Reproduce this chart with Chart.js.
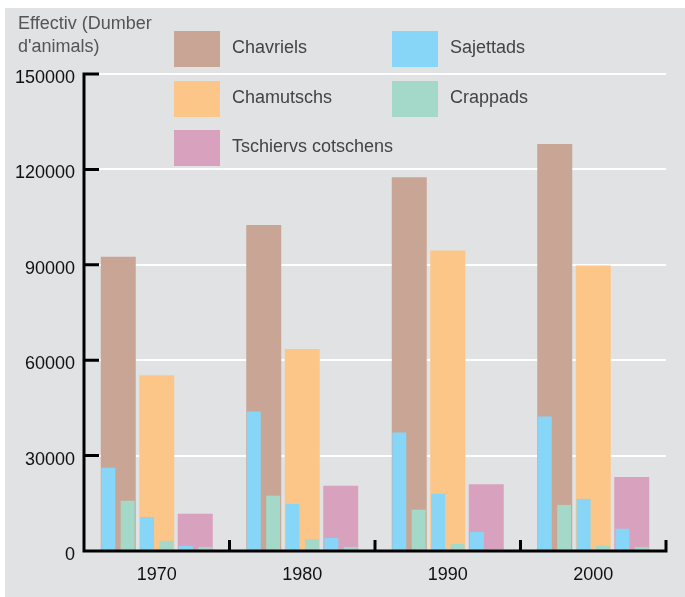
<!DOCTYPE html>
<html>
<head>
<meta charset="utf-8">
<script src="https://cdn.jsdelivr.net/npm/chart.js@4.4.1/dist/chart.umd.min.js"></script>
<style>
  html, body { margin: 0; padding: 0; background: #fff; }
  #panel { position: absolute; left: 5px; top: 8px; width: 680px; height: 589px; background: #e1e2e4; }
  #wrap { position: absolute; left: 0; top: 0; width: 685px; height: 597px; }
</style>
</head>
<body>
<div id="panel"></div>
<div id="wrap"><canvas id="chart"></canvas></div>
<script>
// years on the x axis
const years = ['1970', '1980', '1990', '2000'];
const yTicks = [0, 30000, 60000, 90000, 120000, 150000];

// wide bars
const chavriels = [92500, 102500, 117500, 128000];
const chamutschs = [55300, 63500, 94500, 89800];
const tschiervsCotschens = [11700, 20500, 21000, 23300];

// narrow bars, one pair in front of each wide bar (A = Chavriels, B = Chamutschs, C = Tschiervs)
const sajettadsA = [26200, 43900, 37300, 42300];
const crappadsA = [15800, 17400, 13000, 14500];
const sajettadsB = [10700, 14800, 18000, 16400];
const crappadsB = [3200, 3800, 2200, 1600];
const sajettadsC = [1600, 4100, 6000, 7000];
const crappadsC = [1300, 1300, 600, 1300];

const colors = {
    chavriels: '#c9a596',
    chamutschs: '#fcc688',
    tschiervs: '#d8a1bd',
    sajettads: '#88d6f7',
    crappads: '#a4d8c8'
};

const legendItems = [
    { text: 'Chavriels', color: colors.chavriels, col: 0, row: 0 },
    { text: 'Sajettads', color: colors.sajettads, col: 1, row: 0 },
    { text: 'Chamutschs', color: colors.chamutschs, col: 0, row: 1 },
    { text: 'Crappads', color: colors.crappads, col: 1, row: 1 },
    { text: 'Tschiervs cotschens', color: colors.tschiervs, col: 0, row: 2 }
];

// slot geometry, as fractions of one year's width
const wideStep = 0.2646, wideWidth = 0.2405;
const narrowStep = 0.1333, narrowWidth = 0.0962;

// Two grouped stacks ('L' left half, 'R' right half) on one category axis;
// each dataset gets its own categoryPercentage so its bar lands at `offset`
// from the year centre. The centre bar is simply not grouped.
function placed(label, data, color, offset, width) {
    if (offset === 0) {
        return { label: label, data: data, backgroundColor: color, grouped: false,
                 categoryPercentage: 1, barPercentage: width };
    }
    const c = 4 * Math.abs(offset);
    return { label: label, data: data, backgroundColor: color,
             stack: offset < 0 ? 'L' : 'R',
             categoryPercentage: c, barPercentage: 2 * width / c };
}

// legend + title drawn on the canvas
const legendPlugin = {
    id: 'customLegend',
    afterDraw(chart) {
        const ctx = chart.ctx;
        ctx.save();
        ctx.font = '18px "Liberation Sans", Arial, sans-serif';
        ctx.textBaseline = 'alphabetic';
        ctx.fillStyle = '#555';
        ctx.fillText('Effectiv (Dumber', 18, 29);
        ctx.fillText("d'animals)", 18, 52);

        const colX = [174, 392];
        const rowY = [31, 81, 130];
        legendItems.forEach(item => {
            const x = colX[item.col], y = rowY[item.row];
            ctx.fillStyle = item.color;
            ctx.fillRect(x, y, 46, 36);
            ctx.fillStyle = '#444';
            ctx.fillText(item.text, x + 58, y + 22);
        });
        ctx.restore();
    }
};

// black axes with inward ticks, drawn over the bars
const axesPlugin = {
    id: 'blackAxes',
    afterDatasetsDraw(chart) {
        const ctx = chart.ctx;
        const a = chart.chartArea;
        const yScale = chart.scales.y;
        const top = yScale.getPixelForValue(150000);
        const bottom = yScale.getPixelForValue(0);
        ctx.save();
        ctx.strokeStyle = '#000';
        ctx.lineWidth = 3;
        ctx.beginPath();
        ctx.moveTo(a.left, top - 1.5);
        ctx.lineTo(a.left, bottom + 1.5);
        ctx.moveTo(a.left - 1.5, bottom);
        ctx.lineTo(a.right + 1.5, bottom);
        yTicks.forEach(v => {
            if (v === 0) return;
            const py = yScale.getPixelForValue(v);
            ctx.moveTo(a.left, py);
            ctx.lineTo(a.left + 15, py);
        });
        const catW = (a.right - a.left) / years.length;
        for (let k = 1; k <= years.length; k++) {
            const px = a.left + k * catW;
            ctx.moveTo(px, bottom);
            ctx.lineTo(px, bottom - 11);
        }
        ctx.stroke();
        ctx.restore();
    }
};

const tickFont = { family: '"Liberation Sans", Arial, sans-serif', size: 18 };

const ctx = document.getElementById('chart').getContext('2d');
new Chart(ctx, {
    type: 'bar',
    data: {
        labels: years,
        datasets: [
            // narrow ones first so they are drawn on top
            placed('Sajettads', sajettadsA, colors.sajettads, -2.5 * narrowStep, narrowWidth),
            placed('Crappads', crappadsA, colors.crappads, -1.5 * narrowStep, narrowWidth),
            placed('Sajettads', sajettadsB, colors.sajettads, -0.5 * narrowStep, narrowWidth),
            placed('Crappads', crappadsB, colors.crappads, 0.5 * narrowStep, narrowWidth),
            placed('Sajettads', sajettadsC, colors.sajettads, 1.5 * narrowStep, narrowWidth),
            placed('Crappads', crappadsC, colors.crappads, 2.5 * narrowStep, narrowWidth),
            placed('Chavriels', chavriels, colors.chavriels, -wideStep, wideWidth),
            placed('Chamutschs', chamutschs, colors.chamutschs, 0, wideWidth),
            placed('Tschiervs cotschens', tschiervsCotschens, colors.tschiervs, wideStep, wideWidth)
        ]
    },
    options: {
        responsive: true,
        maintainAspectRatio: false,
        animation: false,
        layout: { padding: { top: 74, right: 19, left: 0, bottom: 0 } },
        scales: {
            x: {
                type: 'category',
                offset: true,
                grid: { display: false },
                border: { display: false },
                ticks: { color: '#111', padding: 5, font: tickFont },
                afterFit: s => { s.height = 46; }
            },
            y: {
                min: 0,
                max: 150000,
                stacked: false,
                afterBuildTicks: s => { s.ticks = yTicks.map(v => ({ value: v })); },
                grid: { color: '#ffffff', lineWidth: 2, drawTicks: false },
                border: { display: false },
                ticks: {
                    color: '#111',
                    padding: 9,
                    labelOffset: 4,
                    font: tickFont,
                    callback: function(value) { return String(value); }
                },
                afterFit: s => { s.width = 84; }
            }
        },
        plugins: {
            legend: { display: false },
            tooltip: { enabled: false }
        }
    },
    plugins: [legendPlugin, axesPlugin]
});
</script>
</body>
</html>
